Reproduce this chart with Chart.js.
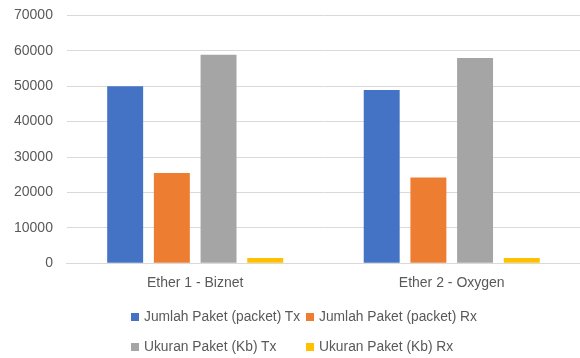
<!DOCTYPE html>
<html>
<head>
<meta charset="utf-8">
<script src="https://cdn.jsdelivr.net/npm/chart.js@4/dist/chart.umd.min.js"></script>
<style>
  html, body { margin: 0; padding: 0; background: #fff; }
  #wrap { position: relative; width: 580px; height: 358px; overflow: hidden; }
  #chartBox { position: absolute; left: 0; top: -7px; width: 580px; height: 315px; }
  #legend { position: absolute; left: 0; top: 0; width: 580px; height: 358px; pointer-events: none;
    font-family: "Liberation Sans", Arial, sans-serif; font-size: 13.8px; color: #595959; }
  .li { position: absolute; white-space: nowrap; line-height: 16px; }
  .sw { position: absolute; width: 8px; height: 8px; }
</style>
</head>
<body>
<div id="wrap">
  <div id="chartBox"><canvas id="c"></canvas></div>
  <div id="legend"></div>
</div>
<script>
const categories = ["Ether 1 - Biznet", "Ether 2 - Oxygen"];
const seriesNames = ["Jumlah Paket (packet) Tx", "Jumlah Paket (packet) Rx", "Ukuran Paket (Kb) Tx", "Ukuran Paket (Kb) Rx"];
const jumlahTx = [50000, 48900];
const jumlahRx = [25500, 24200];
const ukuranTx = [58900, 58000];
const ukuranRx = [1450, 1500];
const yTicks = [0, 10000, 20000, 30000, 40000, 50000, 60000, 70000];
const colors = ["#4472C4", "#ED7D31", "#A5A5A5", "#FFC000"];

const seriesData = [jumlahTx, jumlahRx, ukuranTx, ukuranRx];
const FONT = "'Liberation Sans', Arial, sans-serif";

const chart = new Chart(document.getElementById('c'), {
  type: 'bar',
  data: {
    labels: categories,
    datasets: seriesData.map((d, i) => ({
      label: seriesNames[i],
      data: d,
      backgroundColor: colors[i],
      borderWidth: 0,
      categoryPercentage: 0.728,
      barPercentage: 0.77
    }))
  },
  options: {
    responsive: true,
    maintainAspectRatio: false,
    animation: false,
    layout: { padding: { left: 0, right: 0, top: 1, bottom: 4 } },
    plugins: { legend: { display: false }, tooltip: { enabled: false } },
    scales: {
      x: {
        grid: { display: false, drawTicks: false },
        border: { display: true, color: '#D9D9D9', width: 1 },
        ticks: { color: '#595959', font: { family: FONT, size: 14 }, padding: 12 }
      },
      y: {
        min: 0, max: 70000,
        afterBuildTicks: (axis) => { axis.ticks = yTicks.map(v => ({ value: v })); },
        grid: { color: '#D9D9D9', drawTicks: false, lineWidth: 1 },
        border: { display: false },
        ticks: { color: '#595959', font: { family: FONT, size: 14 }, padding: 14,
                 callback: (v) => String(v) }
      }
    }
  }
});

// HTML legend built from the chart's own legend items
const legendEl = document.getElementById('legend');
const items = chart.options.plugins.legend.labels.generateLabels(chart);
const pos = [[131, 309], [306, 309], [131, 339], [306, 339]];
items.forEach((it, i) => {
  const sw = document.createElement('div');
  sw.className = 'sw';
  sw.style.left = pos[i][0] + 'px';
  sw.style.top = (pos[i][1] + 4) + 'px';
  sw.style.background = it.fillStyle;
  legendEl.appendChild(sw);
  const tx = document.createElement('div');
  tx.className = 'li';
  tx.style.left = (pos[i][0] + 13) + 'px';
  tx.style.top = pos[i][1] + 'px';
  tx.textContent = it.text;
  legendEl.appendChild(tx);
});
</script>
</body>
</html>
